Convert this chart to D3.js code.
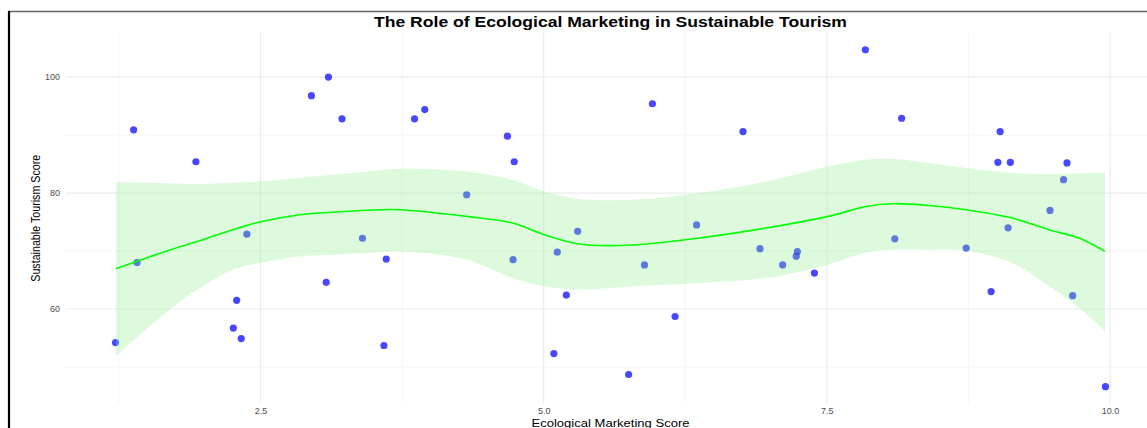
<!DOCTYPE html>
<html>
<head>
<meta charset="utf-8">
<script src="https://cdn.jsdelivr.net/npm/d3@7"></script>
<style>
  body { margin: 0; background: #fff; }
  svg { display: block; font-family: "Liberation Sans", Arial, sans-serif; }
</style>
</head>
<body>
<svg id="chart" width="1147" height="428"></svg>
<script>
// scatter points (Ecological Marketing Score, Sustainable Tourism Score)
var marketingScore = [1.22, 1.38, 1.41, 1.93, 2.26, 2.29, 2.33, 2.38, 2.95, 3.10,
                      3.08, 3.22, 3.40, 3.61, 3.59, 3.86, 3.95, 4.32, 4.68, 4.74,
                      4.73, 5.12, 5.30, 5.09, 5.20, 5.75, 5.96, 5.89, 6.16, 6.35,
                      6.76, 6.91, 7.11, 7.23, 7.24, 7.39, 7.84, 8.10, 8.16, 8.73,
                      8.95, 9.01, 9.03, 9.10, 9.12, 9.47, 9.59, 9.62, 9.67, 9.96];
var tourismScore   = [54.2, 90.9, 68.0, 85.4, 56.7, 61.5, 54.9, 72.9, 96.8, 100.0,
                      64.6, 92.8, 72.2, 68.6, 53.7, 92.8, 94.4, 79.7, 89.8, 85.4,
                      68.5, 69.8, 73.4, 52.3, 62.4, 48.7, 95.4, 67.6, 58.7, 74.5,
                      90.6, 70.4, 67.6, 69.1, 69.9, 66.2, 104.7, 72.1, 92.9, 70.5,
                      63.0, 85.3, 90.6, 74.0, 85.3, 77.0, 82.3, 85.2, 62.3, 46.6];

// loess fit and its confidence band
var smoothX     = [1.224, 1.524, 1.788, 1.965, 2.256, 2.503, 2.847, 3.137, 3.437, 3.728,
                   4.319, 4.724, 5.007, 5.316, 5.783, 6.374, 6.965, 7.512, 7.847, 8.077,
                   8.403, 8.729, 9.135, 9.461, 9.726, 9.955];
var smoothFit   = [66.95, 69.02, 70.74, 71.78, 73.67, 75.05, 76.26, 76.69, 77.03, 77.12,
                   75.97, 74.83, 72.81, 71.21, 71.03, 72.24, 73.97, 75.97, 77.69, 78.16,
                   77.86, 77.12, 75.69, 73.67, 72.24, 69.93];
var smoothUpper = [81.90, 81.78, 81.60, 81.55, 81.78, 82.00, 82.64, 83.16, 83.67, 84.19,
                   83.72, 82.29, 80.28, 78.97, 78.84, 80.00, 82.00, 84.59, 85.74, 85.86,
                   85.17, 84.31, 83.45, 83.28, 83.41, 83.55];
var smoothLower = [51.83, 57.00, 61.31, 63.62, 66.78, 67.98, 69.07, 69.36, 69.66, 69.93,
                   68.50, 65.34, 63.90, 63.33, 63.90, 64.48, 65.34, 67.64, 69.76, 70.22,
                   70.22, 70.05, 67.93, 63.90, 60.20, 56.14];

var xMajor = [2.5, 5.0, 7.5, 10.0];
var xMinor = [1.25, 3.75, 6.25, 8.75];
var yMajor = [60, 80, 100];
var yMinor = [50, 70, 90];

var titleText = "The Role of Ecological Marketing in Sustainable Tourism";
var xTitle = "Ecological Marketing Score";
var yTitle = "Sustainable Tourism Score";

var svg = d3.select("#chart");
var panel = {left: 66, right: 1155, top: 33, bottom: 403.5};

// ggplot style 5% expansion of the data range
function expand(ext){
    var pad = (ext[1] - ext[0]) * 0.05;
    return [ext[0] - pad, ext[1] + pad];
}

var x = d3.scaleLinear()
    .domain(expand(d3.extent(marketingScore)))
    .range([panel.left, panel.right]);
var y = d3.scaleLinear()
    .domain(expand(d3.extent(tourismScore)))
    .range([panel.bottom, panel.top]);

// frame around the picture
svg.append("line")
    .attr("x1", 8).attr("x2", 1147).attr("y1", 11.5).attr("y2", 11.5)
    .attr("stroke", "#666").attr("stroke-width", 1.5);
svg.append("line")
    .attr("x1", 9).attr("x2", 9).attr("y1", 11).attr("y2", 428)
    .attr("stroke", "#000").attr("stroke-width", 2.2);

var grid = svg.append("g");
// minor grid
grid.selectAll(".xminor").data(xMinor).enter().append("line")
    .attr("x1", function(d){return x(d)}).attr("x2", function(d){return x(d)})
    .attr("y1", panel.top).attr("y2", panel.bottom)
    .attr("stroke", "#f2f2f2").attr("stroke-width", 0.8);
grid.selectAll(".yminor").data(yMinor).enter().append("line")
    .attr("x1", panel.left).attr("x2", panel.right)
    .attr("y1", function(d){return y(d)}).attr("y2", function(d){return y(d)})
    .attr("stroke", "#f2f2f2").attr("stroke-width", 0.8);
// major grid
grid.selectAll(".xmajor").data(xMajor).enter().append("line")
    .attr("x1", function(d){return x(d)}).attr("x2", function(d){return x(d)})
    .attr("y1", panel.top).attr("y2", panel.bottom)
    .attr("stroke", "#ebebeb").attr("stroke-width", 1.2);
grid.selectAll(".ymajor").data(yMajor).enter().append("line")
    .attr("x1", panel.left).attr("x2", panel.right)
    .attr("y1", function(d){return y(d)}).attr("y2", function(d){return y(d)})
    .attr("stroke", "#ebebeb").attr("stroke-width", 1.2);

// axes, only used for the tick labels
var xAxis = svg.append("g")
    .attr("transform", "translate(0," + (panel.bottom + 2) + ")")
    .call(d3.axisBottom(x).tickValues(xMajor).tickSize(0).tickPadding(2.5).tickFormat(d3.format(".1f")));
var yAxis = svg.append("g")
    .attr("transform", "translate(" + (panel.left - 3) + ",0)")
    .call(d3.axisLeft(y).tickValues(yMajor).tickSize(0).tickPadding(3).tickFormat(d3.format("d")));
[xAxis, yAxis].forEach(function(a){
    a.select(".domain").remove();
    a.selectAll("text")
        .attr("fill", "#4d4d4d")
        .style("font-size", "9px")
        .style("font-family", "'Liberation Sans', Arial, sans-serif");
});

// points
var pts = marketingScore.map(function(d, i){ return {x: d, y: tourismScore[i]} });
svg.append("g").selectAll("circle").data(pts).enter().append("circle")
    .attr("cx", function(d){return x(d.x)})
    .attr("cy", function(d){return y(d.y)})
    .attr("r", 3.6)
    .attr("fill", "blue")
    .attr("fill-opacity", 0.72);

// smooth band and line (drawn over the points)
var band = smoothX.map(function(d, i){
    return {x: d, fit: smoothFit[i], lo: smoothLower[i], hi: smoothUpper[i]};
});
var area = d3.area()
    .x(function(d){return x(d.x)})
    .y0(function(d){return y(d.lo)})
    .y1(function(d){return y(d.hi)})
    .curve(d3.curveCatmullRom);
var line = d3.line()
    .x(function(d){return x(d.x)})
    .y(function(d){return y(d.fit)})
    .curve(d3.curveCatmullRom);

svg.append("path").datum(band)
    .attr("d", area)
    .attr("fill", "#90ee90")
    .attr("fill-opacity", 0.3);
svg.append("path").datum(band)
    .attr("d", line)
    .attr("fill", "none")
    .attr("stroke", "#00ff00")
    .attr("stroke-width", 1.6);

// titles
svg.append("text")
    .attr("x", (panel.left + panel.right) / 2)
    .attr("y", 26.5)
    .attr("text-anchor", "middle")
    .attr("textLength", 473)
    .attr("lengthAdjust", "spacingAndGlyphs")
    .style("font-size", "14px")
    .style("font-weight", "bold")
    .attr("fill", "#000")
    .text(titleText);

// the reference crops this one at the bottom edge; keep it just inside
svg.append("text")
    .attr("x", (panel.left + panel.right) / 2)
    .attr("y", 426.5)
    .attr("text-anchor", "middle")
    .attr("textLength", 158)
    .attr("lengthAdjust", "spacingAndGlyphs")
    .style("font-size", "11.5px")
    .attr("fill", "#000")
    .text(xTitle);

svg.append("text")
    .attr("transform", "translate(39.5," + ((panel.top + panel.bottom) / 2) + ") rotate(-90)")
    .attr("text-anchor", "middle")
    .attr("textLength", 127)
    .attr("lengthAdjust", "spacingAndGlyphs")
    .style("font-size", "12px")
    .attr("fill", "#000")
    .text(yTitle);
</script>
</body>
</html>
